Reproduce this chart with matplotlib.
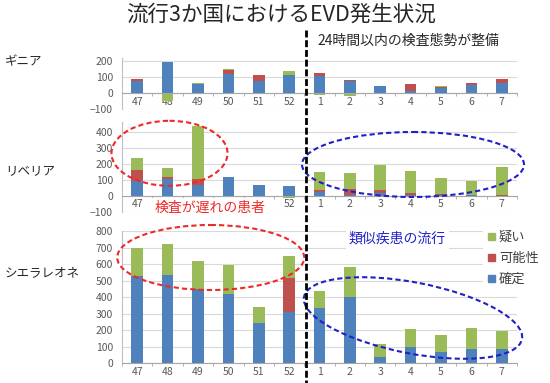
import numpy as np
import matplotlib
matplotlib.use("Agg")
import matplotlib.pyplot as plt
from matplotlib.patches import Ellipse, Patch

plt.rcParams['font.family'] = ['Noto Sans CJK JP', 'DejaVu Sans']

# epidemiological weeks (2014 w47 .. 2015 w7)
weeks = ['47', '48', '49', '50', '51', '52', '1', '2', '3', '4', '5', '6', '7']

# Guinea
guinea_confirmed = [80, 194, 60, 122, 80, 116, 110, 78, 48, 17, 32, 50, 63]
guinea_probable = [8, 0, 0, 26, 34, 0, 17, 6, 0, 42, 10, 17, 25]
guinea_suspected = [0, -47, 3, 8, 0, 27, -11, -14, 0, 0, 4, 0, 0]

# Liberia
liberia_confirmed = [95, 107, 67, 118, 69, 59, 21, 8, 15, 5, 5, 3, 0]
liberia_probable = [67, 11, 36, 0, 0, -3, 15, 34, 20, 15, 5, 5, 8]
liberia_suspected = [79, 54, 335, 0, 0, -13, 115, 99, 158, 138, 100, 86, 171]

# Sierra Leone
sierra_confirmed = [530, 535, 450, 420, 245, 313, 333, 400, 40, 97, 70, 85, 85]
sierra_probable = [0, 0, 0, 0, 0, 206, 0, 0, 0, 0, 0, 0, 0]
sierra_suspected = [170, 190, 170, 175, 95, 131, 105, 182, 75, 111, 100, 131, 111]

labels = ['確定', '可能性', '疑い']
colors = ['#4F81BD', '#C0504D', '#9BBB59']

W, H = 550, 383
fig = plt.figure(figsize=(W / 100, H / 100), dpi=100)


def px_axes(left, top, right, bottom):
    return fig.add_axes([left / W, 1 - bottom / H, (right - left) / W, (bottom - top) / H])


def draw_panel(ax, series, ylim, yticks):
    x = np.arange(len(weeks))
    pos = np.zeros(len(weeks))
    neg = np.zeros(len(weeks))
    for vals, c in zip(series, colors):
        v = np.array(vals, dtype=float)
        p = np.where(v > 0, v, 0)
        n = np.where(v < 0, v, 0)
        ax.bar(x, p, 0.38, bottom=pos, color=c, zorder=3)
        ax.bar(x, n, 0.38, bottom=neg, color=c, zorder=3)
        pos += p
        neg += n
    ax.set_xlim(-0.5, len(weeks) - 0.5)
    ax.set_ylim(*ylim)
    ax.set_yticks(yticks)
    ax.set_xticks(x)
    ax.set_xticklabels(weeks)
    ax.set_xticks(np.arange(-0.5, len(weeks), 1), minor=True)
    ax.grid(axis='y', color='#D9D9D9', lw=0.8, zorder=0)
    for s in ['top', 'right']:
        ax.spines[s].set_visible(False)
    ax.spines['left'].set_color('#BFBFBF')
    ax.spines['bottom'].set_color('#A6A6A6')
    ax.spines['bottom'].set_position(('data', 0))
    ax.spines['bottom'].set_zorder(4)
    ax.tick_params(axis='x', which='major', length=0, pad=2.5, labelsize=7.5, labelcolor='#595959')
    ax.tick_params(axis='x', which='minor', length=2, color='#A6A6A6')
    ax.tick_params(axis='y', length=0, pad=6.5, labelsize=7.5, labelcolor='#595959')
    ax.set_facecolor('none')


ax_g = px_axes(122, 58.3, 517, 109.3)
draw_panel(ax_g, [guinea_confirmed, guinea_probable, guinea_suspected], (-100, 220), [-100, 0, 100, 200])

ax_l = px_axes(122, 121.9, 517, 211.7)
draw_panel(ax_l, [liberia_confirmed, liberia_probable, liberia_suspected], (-100, 465),
           [-100, 0, 100, 200, 300, 400])
# weeks 48-51 are covered by the red caption on the slide
for lbl in ax_l.get_xticklabels()[1:5]:
    lbl.set_visible(False)

ax_s = px_axes(122, 231.3, 517, 363.3)
draw_panel(ax_s, [sierra_confirmed, sierra_probable, sierra_suspected], (0, 800),
           list(range(0, 801, 100)))

# overlay in pixel coordinates for annotations
ov = fig.add_axes([0, 0, 1, 1])
ov.set_xlim(0, W)
ov.set_ylim(H, 0)
ov.set_axis_off()

ov.text(281, 15, '流行3か国におけるEVD発生状況', fontsize=15.5, ha='center', va='center', color='#262626')
ov.text(317, 41, '24時間以内の検査態勢が整備', fontsize=10, ha='left', va='center', color='#262626')
ov.text(5, 62, 'ギニア', fontsize=9, ha='left', va='center', color='#262626')
ov.text(5, 172, 'リベリア', fontsize=9, ha='left', va='center', color='#262626')
ov.text(5, 273, 'シエラレオネ', fontsize=9, ha='left', va='center', color='#262626')

ov.plot([306, 306], [30, H], color='black', lw=2, ls=(0, (2.5, 1)))

red = '#F02828'
blue = '#2020C8'

ov.text(155, 207.5, '検査が遅れの患者', fontsize=10, ha='left', va='center', color=red,
        bbox=dict(facecolor='white', edgecolor='none', pad=2))
ov.text(349, 239, '類似疾患の流行', fontsize=10, ha='left', va='center', color=blue,
        bbox=dict(facecolor='white', edgecolor='none', pad=2))

for (cx, cy, w, h, ang, c) in [(169.5, 153.3, 116, 65, 0, red),
                                (413, 164.5, 222, 65, 0, blue),
                                (210.7, 257.5, 187, 65, 0, red),
                                (413, 318, 222, 71, 11, blue)]:
    ov.add_patch(Ellipse((cx, cy), w, h, angle=ang, fill=False, edgecolor=c,
                         lw=1.5, ls=(0, (2.5, 1.5))))

handles = [Patch(color=c, label=l) for c, l in zip(colors, labels)][::-1]
leg = fig.legend(handles=handles, loc='upper left', bbox_to_anchor=(483 / W, 1 - 226 / H),
                 borderaxespad=0, frameon=True, fontsize=9.5, handlelength=0.5, handleheight=0.5,
                 handletextpad=0.3, labelspacing=0.6, borderpad=0.4, fancybox=False)
leg.get_frame().set_edgecolor('none')
leg.get_frame().set_facecolor('white')
leg.get_frame().set_alpha(1)
for t in leg.get_texts():
    t.set_color('#404040')

fig.savefig('out.png', dpi=100)
